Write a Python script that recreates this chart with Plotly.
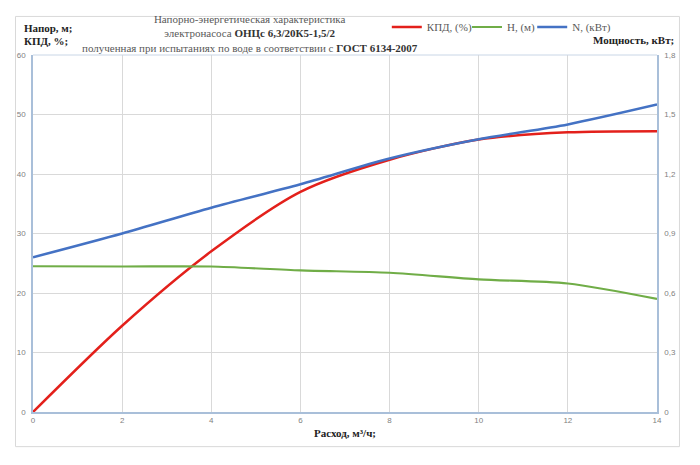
import plotly.graph_objects as go

flow = [0, 2, 4, 6, 8, 10, 12, 14]
kpd = [0, 14.5, 27.0, 37.0, 42.4, 45.8, 47.0, 47.2]
head = [24.5, 24.45, 24.45, 23.8, 23.4, 22.3, 21.6, 19.0]
power = [0.78, 0.90, 1.03, 1.148, 1.278, 1.375, 1.45, 1.55]

serif = "Liberation Serif"
sans = "Liberation Sans"
grid = "#d9d9d9"
axline = "#a9bfd9"

fig = go.Figure()
fig.add_trace(go.Scatter(x=flow, y=kpd, name="КПД, (%)", mode="lines", legend="legend",
                         line=dict(color="#e3201b", width=2.5, shape="spline", smoothing=0.8)))
fig.add_trace(go.Scatter(x=flow, y=head, name="H, (м)", mode="lines", legend="legend2",
                         line=dict(color="#70ad47", width=2.2, shape="spline", smoothing=0.8)))
fig.add_trace(go.Scatter(x=flow, y=power, name="N, (кВт)", mode="lines", yaxis="y2", legend="legend3",
                         line=dict(color="#4472c4", width=2.5, shape="spline", smoothing=0.8)))

legfont = dict(family=serif, size=11, color="#595959")
legcommon = dict(orientation="h", y=1.119, xanchor="left", yanchor="top",
                 font=legfont, bgcolor="rgba(0,0,0,0)")

fig.update_layout(
    width=700, height=465,
    margin=dict(l=33, r=43, t=52, b=53),
    paper_bgcolor="white", plot_bgcolor="white",
    separators=", ",
    showlegend=True,
    legend=dict(x=0.567, **legcommon),
    legend2=dict(x=0.6955, **legcommon),
    legend3=dict(x=0.80, **legcommon),
    xaxis=dict(range=[0, 14], tickvals=[0, 2, 4, 6, 8, 10, 12, 14],
               showgrid=True, gridcolor=grid, gridwidth=1,
               showline=True, linecolor=axline, linewidth=1.5, mirror=False,
               zeroline=False, ticks="", ticklen=0,
               tickfont=dict(family=sans, size=8, color="#7f7f7f")),
    yaxis=dict(range=[0, 60], tickvals=[0, 10, 20, 30, 40, 50, 60],
               showgrid=True, gridcolor=grid, gridwidth=1,
               showline=True, linecolor=axline, linewidth=1.5,
               zeroline=False, ticks="outside", ticklen=4, tickcolor="rgba(0,0,0,0)",
               tickfont=dict(family=sans, size=8, color="#7f7f7f")),
    yaxis2=dict(range=[0, 1.8], tickvals=[0, 0.3, 0.6, 0.9, 1.2, 1.5, 1.8],
                overlaying="y", side="right", showgrid=False,
                showline=True, linecolor=axline, linewidth=1.5,
                zeroline=False, ticks="outside", ticklen=4, tickcolor="rgba(0,0,0,0)",
                tickformat=".1~f",
                tickfont=dict(family=sans, size=8, color="#7f7f7f")),
)

# top border of plot area
fig.add_shape(type="line", xref="paper", yref="paper", x0=0, x1=1, y0=1, y1=1,
              line=dict(color="#c9d6e6", width=1))
# outer chart border
fig.add_shape(type="rect", xref="paper", yref="paper",
              x0=-0.028, x1=1.036, y0=-0.097, y1=1.108,
              line=dict(color="#d9d9d9", width=1))

title_text = ("Напорно-энергетическая характеристика<br>"
              "электронасоса <b><span style='color:#333333'>ОНЦс 6,3/20К5-1,5/2</span></b><br>"
              "полученная при испытаниях по воде в соответствии с "
              "<b><span style='color:#333333'>ГОСТ 6134-2007</span></b>")

ann = [
    dict(x=-0.017, y=1.0756, text="<b>Напор, м;</b>", xanchor="left", size=11),
    dict(x=-0.017, y=1.038, text="<b>КПД, %;</b>", xanchor="left", size=11),
    dict(x=1.03, y=1.041, text="<b>Мощность, кВт;</b>", xanchor="right", color="#222222", size=11),
    dict(x=0.348, y=1.061, text=title_text, xanchor="center", color="#595959", size=11),
    dict(x=0.5, y=-0.06, text="<b>Расход, м³/ч;</b>", xanchor="center", color="#222222", size=11),
]
for a in ann:
    fig.add_annotation(x=a["x"], y=a["y"], xref="paper", yref="paper", text=a["text"],
                       showarrow=False, xanchor=a["xanchor"], yanchor="middle", align="center",
                       font=dict(family=serif, size=a["size"], color=a.get("color", "#222222")))

fig.write_html("out.html")
